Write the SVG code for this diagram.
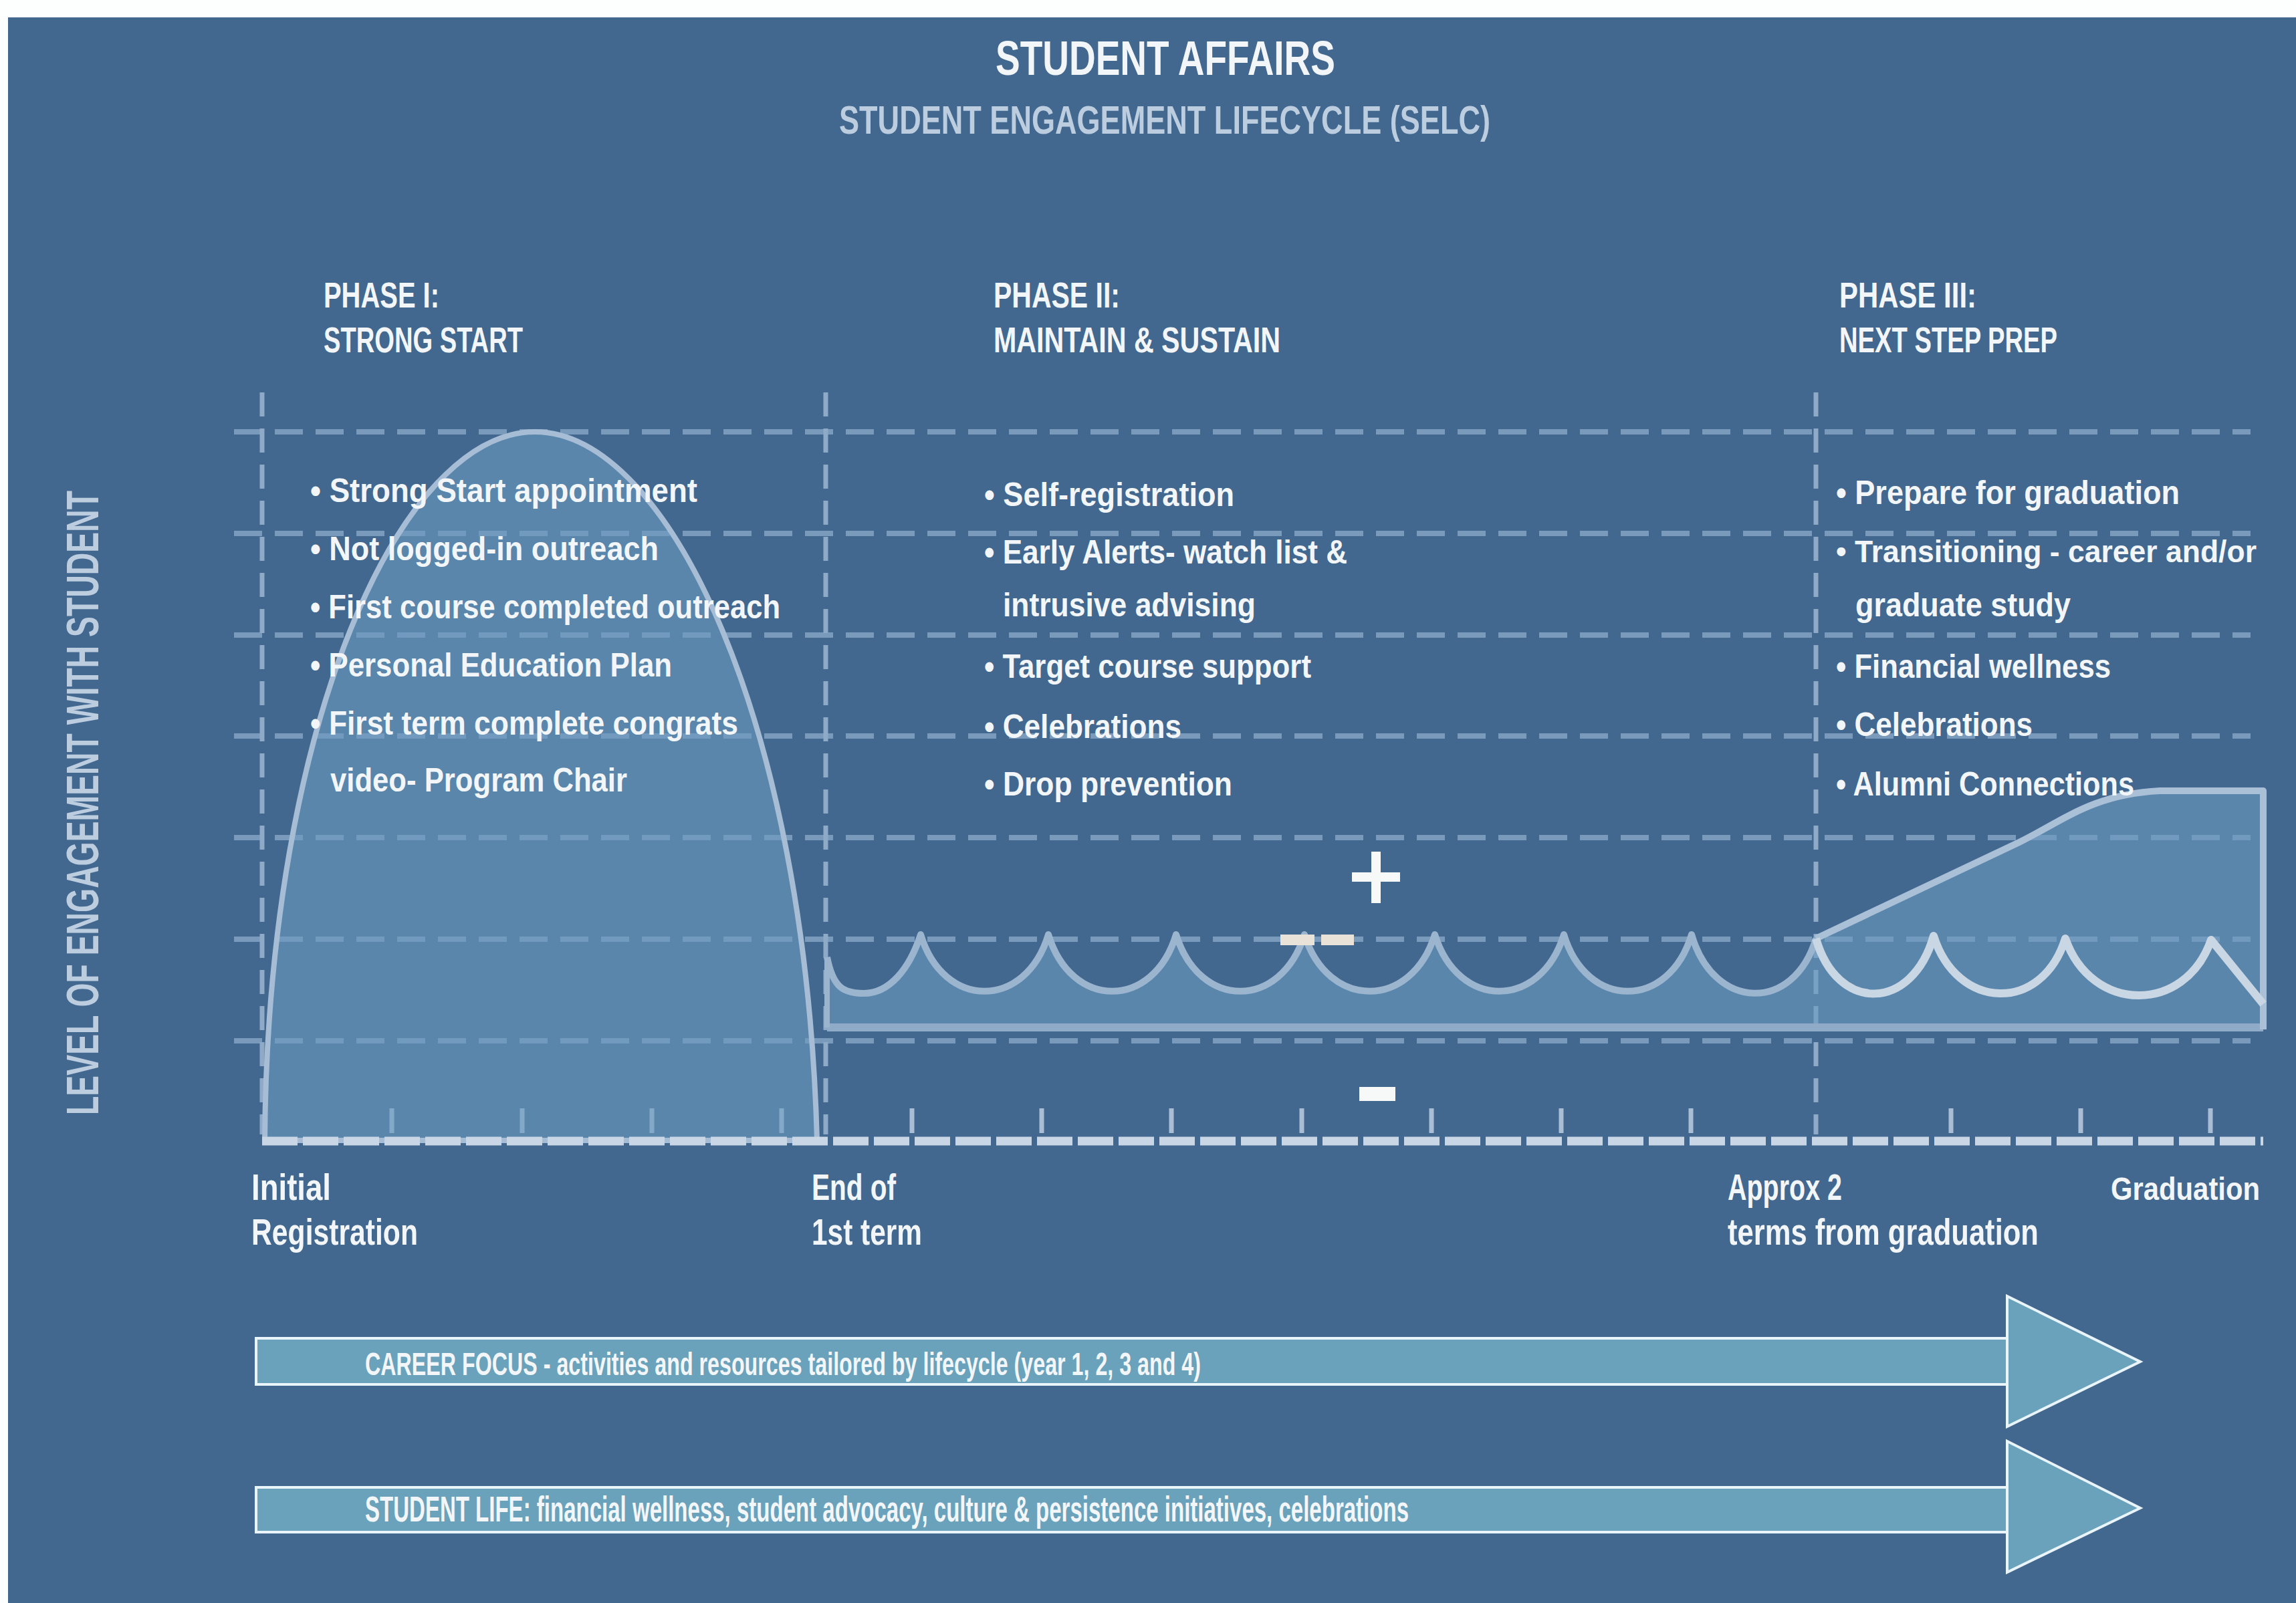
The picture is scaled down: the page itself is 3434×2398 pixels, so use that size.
<svg xmlns="http://www.w3.org/2000/svg" width="3434" height="2398" viewBox="0 0 3434 2398">
<style>
.t{font-family:"Liberation Sans Narrow","Liberation Sans",Arial,sans-serif;font-weight:bold}
.w{fill:#f3f6f9}
.lb{fill:#bccde0}
.hd{font-size:54px}
.bl{font-size:50px}
.ax{font-size:56px}
.grid{stroke:#88a6c5;stroke-width:8;stroke-dasharray:42 19;opacity:.8;fill:none}
.div{stroke:#8eaac7;stroke-width:7;stroke-dasharray:36 18;fill:none}
.tick{stroke:#a9bed5;stroke-width:7}
.bar{fill:#6aa2bb;stroke:#eaf4fb;stroke-width:4}
</style>
<rect x="0" y="0" width="3434" height="2398" fill="#fdfefe"/>
<rect x="12" y="26" width="3422" height="2372" fill="#42688f"/>

<g id="title">
<text class="t w" x="1489" y="112" font-size="72" textLength="508" lengthAdjust="spacingAndGlyphs">STUDENT AFFAIRS</text>
<text class="t lb" x="1255" y="200" font-size="60" textLength="974" lengthAdjust="spacingAndGlyphs">STUDENT ENGAGEMENT LIFECYCLE (SELC)</text>
</g>

<g id="y-axis-label">
<text class="t lb" transform="translate(147,1201) rotate(-90)" x="0" y="0" font-size="69" text-anchor="middle" textLength="934" lengthAdjust="spacingAndGlyphs">LEVEL OF ENGAGEMENT WITH STUDENT</text>
</g>

<g id="chart">
<g id="gridlines">
<line class="grid" x1="350" y1="646" x2="3366" y2="646"/>
<line class="grid" x1="350" y1="798" x2="3366" y2="798"/>
<line class="grid" x1="350" y1="950" x2="3366" y2="950"/>
<line class="grid" x1="350" y1="1101" x2="3366" y2="1101"/>
<line class="grid" x1="350" y1="1253" x2="3366" y2="1253"/>
<line class="grid" x1="350" y1="1405" x2="3366" y2="1405"/>
<line class="grid" x1="350" y1="1557" x2="3366" y2="1557"/>
</g>
<g id="dividers">
<line class="div" x1="392" y1="587" x2="392" y2="1697"/>
<line class="div" x1="1235" y1="587" x2="1235" y2="1697"/>
<line class="div" x1="2716" y1="587" x2="2716" y2="1697"/>
</g>
<g id="ticks">
<line class="tick" x1="586" y1="1658" x2="586" y2="1695"/>
<line class="tick" x1="781" y1="1658" x2="781" y2="1695"/>
<line class="tick" x1="975" y1="1658" x2="975" y2="1695"/>
<line class="tick" x1="1169" y1="1658" x2="1169" y2="1695"/>
<line class="tick" x1="1364" y1="1658" x2="1364" y2="1695"/>
<line class="tick" x1="1558" y1="1658" x2="1558" y2="1695"/>
<line class="tick" x1="1752" y1="1658" x2="1752" y2="1695"/>
<line class="tick" x1="1947" y1="1658" x2="1947" y2="1695"/>
<line class="tick" x1="2141" y1="1658" x2="2141" y2="1695"/>
<line class="tick" x1="2335" y1="1658" x2="2335" y2="1695"/>
<line class="tick" x1="2529" y1="1658" x2="2529" y2="1695"/>
<line class="tick" x1="2918" y1="1658" x2="2918" y2="1695"/>
<line class="tick" x1="3112" y1="1658" x2="3112" y2="1695"/>
<line class="tick" x1="3306" y1="1658" x2="3306" y2="1695"/>
</g>

<g id="phase1-curve">
<path d="M396 1706 C400 1080 600 646 800 646 C1000 646 1205 1080 1222 1706 Z" fill="#6b9bbf" fill-opacity="0.6" stroke="#a6bdd5" stroke-width="8"/>
</g>

<g id="phase23-curve">
<path d="M1237 1537 L1237 1432 C1246 1478 1262 1486 1292 1486 C1330 1486 1360 1450 1377 1398 C1411 1511 1534 1511 1568 1398 C1602 1511 1725 1511 1759 1398 C1794 1511 1916 1511 1951 1398 C1986 1511 2111 1511 2146 1398 C2181 1511 2304 1511 2339 1398 C2373 1511 2496 1511 2530 1398 C2563 1513 2683 1515 2716 1404 L3020 1260 C3085 1228 3130 1188 3230 1183 L3385 1183 L3385 1537 Z" fill="#6b9bbf" fill-opacity="0.6"/>
<path d="M1237 1537 L3385 1537" stroke="#8fabc8" stroke-width="12" fill="none"/>
<path d="M1237 1537 L1237 1432" stroke="#9cb5cf" stroke-width="8" fill="none"/>
<path d="M1237 1432 C1246 1478 1262 1486 1292 1486 C1330 1486 1360 1450 1377 1398 C1411 1511 1534 1511 1568 1398 C1602 1511 1725 1511 1759 1398 C1794 1511 1916 1511 1951 1398 C1986 1511 2111 1511 2146 1398 C2181 1511 2304 1511 2339 1398 C2373 1511 2496 1511 2530 1398 C2563 1513 2683 1515 2716 1404" stroke="#9cb5cf" stroke-width="10" fill="none" stroke-linejoin="round"/>
<path d="M2716 1404 L3020 1260 C3085 1228 3130 1188 3230 1183 L3385 1183 L3385 1540" stroke="#aac0d7" stroke-width="10" fill="none" stroke-linejoin="round"/>
<path d="M2716 1404 C2748 1516 2860 1513 2892 1400 C2927 1512 3054 1516 3089 1404 C3128 1516 3268 1518 3307 1406 L3385 1502" stroke="#c9d6e4" stroke-width="12" fill="none" stroke-linejoin="round"/>
</g>

<line id="x-axis" x1="392" y1="1707" x2="3385" y2="1707" stroke="#c8d6e6" stroke-width="13" stroke-dasharray="53 8"/>

<g id="signs">
<rect x="2051" y="1274" width="14" height="77" fill="#f7f8f8"/>
<rect x="2022" y="1305" width="72" height="14" fill="#f7f8f8"/>
<rect x="1915" y="1398" width="51" height="16" fill="#e8e2d8"/>
<rect x="1976" y="1398" width="49" height="16" fill="#e8e2d8"/>
<rect x="2033" y="1626" width="54" height="21" fill="#f7f8f8"/>
</g>
</g>

<g id="phase1">
<text class="t w hd" x="484" y="460" textLength="173" lengthAdjust="spacingAndGlyphs">PHASE I:</text>
<text class="t w hd" x="484" y="527" textLength="298" lengthAdjust="spacingAndGlyphs">STRONG START</text>
<text class="t w bl" x="464" y="751" textLength="579" lengthAdjust="spacingAndGlyphs">• Strong Start appointment</text>
<text class="t w bl" x="464" y="838" textLength="521" lengthAdjust="spacingAndGlyphs">• Not logged-in outreach</text>
<text class="t w bl" x="464" y="925" textLength="703" lengthAdjust="spacingAndGlyphs">• First course completed outreach</text>
<text class="t w bl" x="464" y="1012" textLength="541" lengthAdjust="spacingAndGlyphs">• Personal Education Plan</text>
<text class="t w bl" x="464" y="1099" textLength="640" lengthAdjust="spacingAndGlyphs">• First term complete congrats</text>
<text class="t w bl" x="494" y="1184" textLength="444" lengthAdjust="spacingAndGlyphs">video- Program Chair</text>
</g>

<g id="phase2">
<text class="t w hd" x="1486" y="460" textLength="189" lengthAdjust="spacingAndGlyphs">PHASE II:</text>
<text class="t w hd" x="1486" y="527" textLength="429" lengthAdjust="spacingAndGlyphs">MAINTAIN &amp; SUSTAIN</text>
<text class="t w bl" x="1472" y="757" textLength="374" lengthAdjust="spacingAndGlyphs">• Self-registration</text>
<text class="t w bl" x="1472" y="843" textLength="543" lengthAdjust="spacingAndGlyphs">• Early Alerts- watch list &amp;</text>
<text class="t w bl" x="1500" y="922" textLength="378" lengthAdjust="spacingAndGlyphs">intrusive advising</text>
<text class="t w bl" x="1472" y="1014" textLength="489" lengthAdjust="spacingAndGlyphs">• Target course support</text>
<text class="t w bl" x="1472" y="1104" textLength="295" lengthAdjust="spacingAndGlyphs">• Celebrations</text>
<text class="t w bl" x="1472" y="1190" textLength="371" lengthAdjust="spacingAndGlyphs">• Drop prevention</text>
</g>

<g id="phase3">
<text class="t w hd" x="2751" y="460" textLength="205" lengthAdjust="spacingAndGlyphs">PHASE III:</text>
<text class="t w hd" x="2751" y="527" textLength="326" lengthAdjust="spacingAndGlyphs">NEXT STEP PREP</text>
<text class="t w bl" x="2746" y="754" textLength="514" lengthAdjust="spacingAndGlyphs">• Prepare for graduation</text>
<text class="t w" x="2746" y="841" font-size="46" textLength="629" lengthAdjust="spacingAndGlyphs">• Transitioning - career and/or</text>
<text class="t w bl" x="2775" y="922" textLength="322" lengthAdjust="spacingAndGlyphs">graduate study</text>
<text class="t w bl" x="2746" y="1014" textLength="411" lengthAdjust="spacingAndGlyphs">• Financial wellness</text>
<text class="t w bl" x="2746" y="1101" textLength="294" lengthAdjust="spacingAndGlyphs">• Celebrations</text>
<text class="t w bl" x="2746" y="1190" textLength="446" lengthAdjust="spacingAndGlyphs">• Alumni Connections</text>
</g>

<g id="milestones">
<text class="t w ax" x="376" y="1795" textLength="119" lengthAdjust="spacingAndGlyphs">Initial</text>
<text class="t w ax" x="376" y="1862" textLength="249" lengthAdjust="spacingAndGlyphs">Registration</text>
<text class="t w ax" x="1214" y="1795" textLength="126" lengthAdjust="spacingAndGlyphs">End of</text>
<text class="t w ax" x="1214" y="1862" textLength="165" lengthAdjust="spacingAndGlyphs">1st term</text>
<text class="t w ax" x="2584" y="1795" textLength="171" lengthAdjust="spacingAndGlyphs">Approx 2</text>
<text class="t w ax" x="2584" y="1862" textLength="465" lengthAdjust="spacingAndGlyphs">terms from graduation</text>
<text class="t w" x="3157" y="1795" font-size="48" textLength="223" lengthAdjust="spacingAndGlyphs">Graduation</text>
</g>

<g id="connectors">
<g id="career-arrow">
<rect class="bar" x="383" y="2002" width="2619" height="69"/>
<polygon class="bar" points="3002,1939 3201,2037 3002,2134"/>
<text class="t w" x="546" y="2057" font-size="49" textLength="1250" lengthAdjust="spacingAndGlyphs">CAREER FOCUS - activities and resources tailored by lifecycle (year 1, 2, 3 and 4)</text>
</g>
<g id="student-life-arrow">
<rect class="bar" x="383" y="2225" width="2619" height="67"/>
<polygon class="bar" points="3002,2156 3201,2256 3002,2352"/>
<text class="t w" x="546" y="2276" font-size="53" textLength="1561" lengthAdjust="spacingAndGlyphs">STUDENT LIFE: financial wellness, student advocacy, culture &amp; persistence initiatives, celebrations</text>
</g>
</g>
</svg>
